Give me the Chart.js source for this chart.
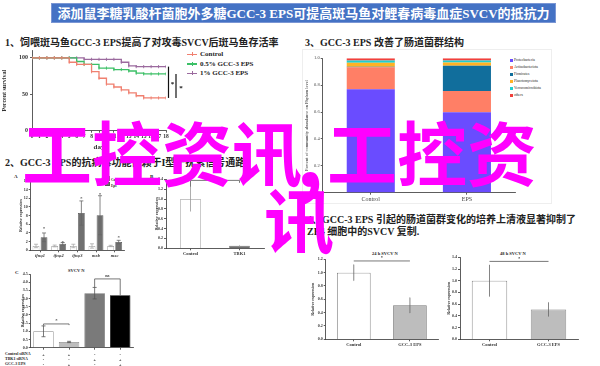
<!DOCTYPE html>
<html>
<head>
<meta charset="utf-8">
<script src="https://cdn.jsdelivr.net/npm/chart.js@4.4.1/dist/chart.umd.min.js"></script>
<style>
  body { margin: 0; background: #fff; }
  #page { position: relative; width: 600px; height: 366px; overflow: hidden; background: #fff;
          font-family: "Liberation Serif", "Noto Sans CJK SC", serif; color: #222; }
  #page canvas { position: absolute; }
  .t { position: absolute; white-space: nowrap; }
  .head { font-size: 10px; font-weight: bold; line-height: 12px; letter-spacing: 0; }
  .tiny { font-size: 4.5px; font-weight: bold; line-height: 5px; }
  .wm { position: absolute; white-space: nowrap; color: #ff00ff; font-family: "Noto Sans CJK SC", sans-serif;
        font-weight: 700; font-size: 70px; line-height: 70px; z-index: 10; }
</style>
</head>
<body>
<div id="page">
  <div class="t" style="left:51px;top:3px;width:505px;height:20px;background:#4472c4;border:1px solid #7a96d4;box-sizing:border-box;color:#fff;font-size:13px;font-weight:bold;line-height:19px;text-align:center;">添加鼠李糖乳酸杆菌胞外多糖GCC-3 EPS可提高斑马鱼对鲤春病毒血症SVCV的抵抗力</div>

  <div class="t head" style="left:5px;top:37px;">1、饲喂斑马鱼GCC-3 EPS提高了对攻毒SVCV后斑马鱼存活率</div>
  <div class="t head" style="left:305px;top:37px;">3、GCC-3 EPS 改善了肠道菌群结构</div>
  <div class="t head" style="left:5px;top:157px;">2、GCC-3 EPS的抗病毒功能依赖于I型干扰素信号通路</div>
  <div class="t head" style="left:307px;top:214px;">4、GCC-3 EPS 引起的肠道菌群变化的培养上清液显著抑制了</div>
  <div class="t head" style="left:307px;top:226px;">ZF4 细胞中的SVCV 复制.</div>

  <div class="t" style="left:302px;top:49px;width:250px;height:155px;border:1px solid #eee;box-sizing:border-box;"></div>

  <div id="survLegend" class="t" style="left:187px;top:50px;font-size:7px;font-weight:bold;line-height:9.5px;"></div>
  <div id="phylumLegend" class="t" style="left:510px;top:57px;font-size:3.6px;line-height:7px;"></div>

  <div class="t" style="left:14px;top:174px;font-size:5px;font-weight:bold;">A</div>
  <div class="t" style="left:150px;top:174px;font-size:5px;font-weight:bold;">B</div>
  <div class="t" style="left:15px;top:270px;font-size:5px;font-weight:bold;">C</div>
  <div class="t tiny" style="left:105px;top:176px;line-height:4px;font-size:3.5px;">
    <span style="display:inline-block;width:3px;height:2.5px;border:0.5px solid #777;background:#fff;"></span> Control<br>
    <span style="display:inline-block;width:3px;height:2.5px;border:0.5px solid #555;background:#707070;"></span> Eps
  </div>
  <div class="t tiny" style="left:68px;top:268px;">SVCV N</div>
  <div class="t tiny" style="left:5px;top:350.5px;line-height:5px;font-size:4px;">Control siRNA<br>TBK1 siRNA<br>GCC-3 EPS</div>
  <div class="t tiny" style="left:372px;top:251px;">24 h SVCV N</div>
  <div class="t tiny" style="left:500px;top:251px;">48 h SVCV N</div>

  <div class="wm" style="left:22px;top:116px;">工控资讯</div>
  <div class="wm" style="left:296px;top:107px;font-size:85px;line-height:85px;">,</div>
  <div class="wm" style="left:327px;top:116px;">工控资</div>
  <div class="wm" style="left:264px;top:183px;">讯</div>
</div>

<script>
// ---- data ----
const days = [0, 1, 2, 3, 4, 5, 6, 7, 8, 9, 10, 11, 12, 13, 14, 15, 16, 17, 18];
const survControl = [100, 100, 100, 100, 100, 94, 91, 91, 81, 72, 64, 60, 56, 52, 48, 45, 45, 45, 45];
const survLow = [100, 100, 100, 100, 100, 100, 95, 91, 91, 86, 86, 84, 84, 82, 79, 78, 78, 78, 78];
const survHigh = [100, 100, 100, 100, 100, 100, 100, 98, 98, 98, 98, 98, 94, 89, 88, 88, 88, 88, 88];
const survNames = ['Control', '0.5% GCC-3 EPS', '1% GCC-3 EPS'];

const phyla = ['Proteobacteria', 'Actinobacteriota', 'Firmicutes', 'Planctomycetota', 'Verrucomicrobiota', 'others'];
const phylumGroups = ['Control', 'EPS'];
const phylumControl = [0.769, 0.164, 0.005, 0.029, 0.017, 0.016];
const phylumEps = [0.598, 0.159, 0.188, 0.023, 0.015, 0.017];

const genes = ['ifnφ1', 'ifnφ2', 'ifnφ3', 'mxb', 'mxc'];
const geneControl = [1, 1, 1, 1, 1];
const geneControlErr = [0.4, 0.2, 0.4, 0.5, 0.15];
const geneEps = [3.0, 1.5, 8.6, 8.1, 1.9];
const geneEpsErr = [1.0, 0.3, 2.8, 4.5, 0.4];
const geneEpsStars = [5.2, 2.1, 12.3, 13.1, 3.1];

const tbkLabels = ['Control', 'TBK1'];
const tbkValues = [1.0, 0.05];
const tbkErr = [0.25, 0.01];

const svcvRows = [['+', '-', '-'], ['+', '-', '+'], ['-', '+', '-'], ['-', '+', '+']];
const svcvValues = [1.0, 0.35, 3.33, 3.2];
const svcvErr = [0.33, 0.04, 0.35, 0];

const cellLabels = ['Control', 'GCC-3 EPS'];
const svcv24 = [1.0, 0.51];
const svcv24Err = [0.12, 0.115];
const svcv48 = [1.0, 0.51];
const svcv48Err = [0.27, 0.12];

// ---- styles ----
const survColors = ['#f08070', '#3cc067', '#9b6a9e'];
const phylumColors = ['#6a4cff', '#ff7f66', '#116e9c', '#ffb224', '#1fcfcf', '#f0403c'];

Chart.defaults.animation = false;
Chart.defaults.font.family = '"Liberation Serif", serif';
Chart.defaults.color = '#222';
Chart.defaults.plugins.legend.display = false;
Chart.defaults.plugins.tooltip.enabled = false;

const errorBars = {
  id: 'errorBars',
  afterDatasetsDraw(chart) {
    const ctx = chart.ctx, ys = chart.scales.y;
    chart.data.datasets.forEach((ds, i) => {
      if (!ds.errs) return;
      const meta = chart.getDatasetMeta(i);
      ctx.save();
      ctx.strokeStyle = ds.errColor || '#555';
      ctx.lineWidth = 0.8;
      meta.data.forEach((el, j) => {
        const e = ds.errs[j];
        if (!e) return;
        const v = ds.data[j];
        const top = ys.getPixelForValue(v + e), bot = ys.getPixelForValue(v - e);
        const cw = ds.capW || 2;
        ctx.beginPath();
        ctx.moveTo(el.x, top); ctx.lineTo(el.x, bot);
        ctx.moveTo(el.x - cw, top); ctx.lineTo(el.x + cw, top);
        ctx.moveTo(el.x - cw, bot); ctx.lineTo(el.x + cw, bot);
        ctx.stroke();
      });
      if (ds.stars) {
        ctx.fillStyle = '#555';
        ctx.font = 'bold 5px "Liberation Serif"';
        ctx.textAlign = 'center';
        meta.data.forEach((el, j) => ctx.fillText('*', el.x, ys.getPixelForValue(ds.stars[j]) + 2.5));
      }
      ctx.restore();
    });
  }
};

// significance brackets between two bars
const sigBars = {
  id: 'sigBars',
  afterDatasetsDraw(chart, args, opts) {
    const items = opts.items || [];
    const ctx = chart.ctx, ys = chart.scales.y;
    const bars = chart.getDatasetMeta(0).data;
    ctx.save();
    ctx.strokeStyle = '#555';
    ctx.fillStyle = '#333';
    ctx.lineWidth = 0.8;
    ctx.textAlign = 'center';
    ctx.font = 'bold 4.5px "Liberation Serif"';
    items.forEach(it => {
      const xa = bars[it.a].x, xb = bars[it.b].x;
      const y = ys.getPixelForValue(it.y);
      ctx.beginPath();
      ctx.moveTo(xa, it.legs ? ys.getPixelForValue(it.legs[0]) : y);
      ctx.lineTo(xa, y);
      ctx.lineTo(xb, y);
      ctx.lineTo(xb, it.legs ? ys.getPixelForValue(it.legs[1]) : y);
      ctx.stroke();
      ctx.fillText(it.text, (xa + xb) / 2, y - 1.5);
    });
    ctx.restore();
  }
};

function axisStyle(fontSize, extra) {
  return Object.assign({
    grid: { display: true, drawOnChartArea: false, drawTicks: true, tickLength: 2, color: '#333', lineWidth: 0.8, offset: false },
    border: { color: '#333', width: 0.8 },
    ticks: { font: { size: fontSize, weight: 'bold' }, color: '#333', padding: 1, autoSkip: false, maxRotation: 0 }
  }, extra);
}

function yTitle(text, size) {
  return { display: true, text: text, font: { size: size, weight: 'bold' }, color: '#333', padding: 1 };
}

// canvas placed at box, plot area pinned to area (page coordinates)
function makeChart(id, box, area, cfg) {
  const c = document.createElement('canvas');
  c.id = id;
  c.width = box.w;
  c.height = box.h;
  c.style.left = box.x + 'px';
  c.style.top = box.y + 'px';
  document.getElementById('page').appendChild(c);
  cfg.options.responsive = false;
  cfg.options.layout = { padding: { left: 0, top: area.t - box.y, right: box.x + box.w - area.r, bottom: 0 } };
  cfg.options.scales.x.afterFit = s => { s.height = box.y + box.h - area.b; };
  cfg.options.scales.y.afterFit = s => { s.width = area.l - box.x; };
  return new Chart(c, cfg);
}

// ---- 1: survival ----
const survSeries = [survControl, survLow, survHigh];
const survBrackets = {
  id: 'survBrackets',
  afterDatasetsDraw(chart) {
    const ctx = chart.ctx, ys = chart.scales.y, r = chart.chartArea.right;
    const last = days.length - 1;
    const yc = ys.getPixelForValue(survControl[last]);
    ctx.save();
    ctx.strokeStyle = '#111';
    ctx.fillStyle = '#111';
    ctx.lineWidth = 1.2;
    ctx.font = 'bold 7px "Liberation Serif"';
    ctx.textAlign = 'center';
    [[survHigh, 2.5, 6.5], [survLow, 10, 15]].forEach(([s, dx, sx]) => {
      ctx.beginPath();
      ctx.moveTo(r + dx, ys.getPixelForValue(s[last]));
      ctx.lineTo(r + dx, yc);
      ctx.stroke();
      ctx.fillText('*', r + sx, (ys.getPixelForValue(s[last]) + yc) / 2 + 4);
    });
    ctx.restore();
  }
};
makeChart('surv', { x: 0, y: 45, w: 186, h: 108 }, { l: 32, t: 49.6, r: 166, b: 130.7 }, {
  type: 'line',
  data: {
    datasets: survSeries.map((s, i) => ({
      label: survNames[i],
      data: days.map((d, k) => ({ x: d, y: s[k] })),
      borderColor: survColors[i],
      borderWidth: 1.3,
      stepped: 'before',
      pointStyle: 'line',
      rotation: 90,
      pointRadius: 1.6,
      pointBorderWidth: 0.9,
      pointBorderColor: survColors[i]
    }))
  },
  options: {
    scales: {
      x: axisStyle(5.5, { type: 'linear', min: 0, max: 18, ticks: { stepSize: 1, font: { size: 5.5, weight: 'bold' }, color: '#333', padding: 1, maxRotation: 0, autoSkip: false },
        title: { display: true, text: 'day', font: { size: 7, weight: 'bold' }, color: '#333', padding: 2 } }),
      y: axisStyle(6, { min: 0, max: 110, ticks: { stepSize: 50, includeBounds: false, font: { size: 6, weight: 'bold' }, color: '#333', padding: 2 },
        title: yTitle('Percent survival', 6) })
    }
  },
  plugins: [survBrackets]
});
document.getElementById('survLegend').innerHTML = survNames.map((n, i) =>
  `<div><span style="display:inline-block;position:relative;width:10px;height:1.3px;background:${survColors[i]};vertical-align:middle;margin-right:3px;">` +
  `<span style="position:absolute;left:4.5px;top:-1.5px;width:0.9px;height:4px;background:${survColors[i]}"></span></span>${n}</div>`).join('');

// ---- 3: phylum stacked ----
makeChart('phylum', { x: 303, y: 50, w: 248, h: 152 }, { l: 322.7, t: 58.3, r: 515, b: 192.7 }, {
  type: 'bar',
  data: {
    labels: phylumGroups,
    datasets: phyla.map((p, i) => ({
      label: p,
      data: [phylumControl[i], phylumEps[i]],
      backgroundColor: phylumColors[i],
      borderWidth: 0,
      barPercentage: 0.5,
      categoryPercentage: 1
    }))
  },
  options: {
    scales: {
      x: axisStyle(6, { stacked: true, ticks: { font: { size: 6 }, color: '#444', padding: 1 } }),
      y: axisStyle(4.5, { stacked: true, min: 0, max: 1, ticks: { stepSize: 0.2, font: { size: 4.5 }, color: '#444', padding: 1 },
        title: Object.assign(yTitle('Percent of community abundance on Phylum level', 4.5), { font: { size: 4.5 } }) })
    }
  }
});
document.getElementById('phylumLegend').innerHTML = phyla.map((p, i) =>
  `<div><span style="display:inline-block;width:3px;height:3px;background:${phylumColors[i]};vertical-align:middle;margin-right:1px;"></span>${p}</div>`).join('');

// ---- 2A: gene expression ----
makeChart('genes', { x: 18, y: 176, w: 110, h: 84 }, { l: 30.7, t: 181, r: 124, b: 250.3 }, {
  type: 'bar',
  data: {
    labels: genes,
    datasets: [
      { label: 'Control', data: geneControl, errs: geneControlErr, errColor: '#aaa', backgroundColor: '#fff', borderColor: '#999', borderWidth: 0.7, barPercentage: 0.85, categoryPercentage: 0.86 },
      { label: 'Eps', data: geneEps, errs: geneEpsErr, stars: geneEpsStars, errColor: '#666', backgroundColor: '#707070', borderColor: '#555', borderWidth: 0.7, barPercentage: 0.85, categoryPercentage: 0.86 }
    ]
  },
  options: {
    scales: {
      x: axisStyle(4.5, { ticks: { font: { size: 4.5, style: 'italic', weight: 'bold' }, color: '#333', padding: 1 } }),
      y: axisStyle(4, { min: 0, max: 16, ticks: { stepSize: 2, font: { size: 4, weight: 'bold' }, color: '#333', padding: 1 },
        title: yTitle('Relative expression', 4) })
    }
  },
  plugins: [errorBars]
});

// ---- 2B: TBK1 ----
makeChart('tbk', { x: 154, y: 176, w: 112, h: 82 }, { l: 166, t: 179.3, r: 264, b: 248.3 }, {
  type: 'bar',
  data: {
    labels: tbkLabels,
    datasets: [{ data: tbkValues, errs: tbkErr, errColor: '#999', capW: 0.1, backgroundColor: ['#fff', '#707070'], borderColor: ['#999', '#555'], borderWidth: 0.7, barPercentage: 0.42, categoryPercentage: 1 }]
  },
  options: {
    scales: {
      x: axisStyle(4.5, {}),
      y: axisStyle(4, { min: 0, max: 1.4, ticks: { stepSize: 0.2, callback: v => v.toFixed(1), font: { size: 4, weight: 'bold' }, color: '#333', padding: 1 },
        title: yTitle('Relative expression', 4) }),
    },
    plugins: { sigBars: { items: [{ a: 0, b: 1, y: 1.38, legs: [1.25, 1.33], text: '' }] } }
  },
  plugins: [errorBars, sigBars]
});

// ---- 2C: SVCV N ----
makeChart('svcvC', { x: 20, y: 270, w: 116, h: 96 }, { l: 30.7, t: 274, r: 133, b: 347.7 }, {
  type: 'bar',
  data: {
    labels: svcvRows,
    datasets: [{ data: svcvValues, errs: svcvErr, errColor: '#555', backgroundColor: ['#fff', '#bdbdbd', '#7a7a7a', '#000'], borderColor: ['#888', '#888', '#555', '#000'], borderWidth: 0.7, barPercentage: 0.8, categoryPercentage: 1 }]
  },
  options: {
    scales: {
      x: axisStyle(4, { ticks: { font: { size: 4.2, weight: 'bold', lineHeight: 1.2 }, color: '#333', padding: 2.5 } }),
      y: axisStyle(4, { min: 0, max: 4.5, ticks: { stepSize: 0.5, callback: v => v.toFixed(1), font: { size: 4, weight: 'bold' }, color: '#333', padding: 1 },
        title: yTitle('Relative expression', 4) })
    },
    plugins: { sigBars: { items: [{ a: 0, b: 1, y: 1.45, legs: [1.35, 1.38], text: '*' }, { a: 2, b: 3, y: 4.2, legs: [3.68, 3.2], text: 'ns' }] } }
  },
  plugins: [errorBars, sigBars]
});

// ---- 4A / 4B ----
function cellChart(id, box, area, values, errs, maxY, sigY) {
  return makeChart(id, box, area, {
    type: 'bar',
    data: {
      labels: cellLabels,
      datasets: [{ data: values, errs: errs, errColor: '#666', capW: 0.1, backgroundColor: ['#fff', '#bdbdbd'], borderColor: ['#666', '#777'], borderWidth: 0.8, barPercentage: 0.6, categoryPercentage: 1 }]
    },
    options: {
      scales: {
        x: axisStyle(4.5, {}),
        y: axisStyle(4, { min: 0, max: maxY, ticks: { stepSize: 0.2, callback: v => v.toFixed(1), font: { size: 4, weight: 'bold' }, color: '#333', padding: 1 },
          title: yTitle('Relative expression', 4) })
      },
      plugins: { sigBars: { items: [{ a: 0, b: 1, y: sigY, text: '*' }] } }
    },
    plugins: [errorBars, sigBars]
  });
}
cellChart('svcv24', { x: 310, y: 252, w: 132, h: 100 }, { l: 325.7, t: 259.3, r: 438, b: 339.3 }, svcv24, svcv24Err, 1.2, 1.175);
cellChart('svcv48', { x: 446, y: 252, w: 136, h: 100 }, { l: 460, t: 257.3, r: 578, b: 339.3 }, svcv48, svcv48Err, 1.4, 1.33);
</script>
</body>
</html>
